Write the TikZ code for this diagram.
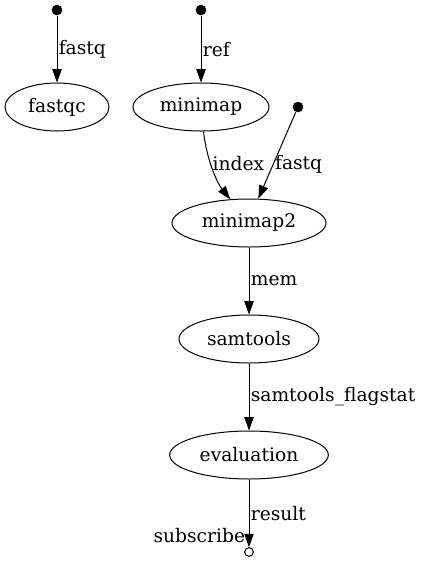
\documentclass[tikz,border=0pt]{standalone}
\usepackage{fontspec}
\setmainfont{DejaVu Serif}
\usetikzlibrary{arrows.meta,shapes.geometric}

\begin{document}
\begin{tikzpicture}[x=0.75pt,y=-0.75pt,>={Triangle[length=10pt,width=7pt]},line width=0.75pt,
  every node/.style={font=\fontsize{14pt}{17pt}\selectfont},
  proc/.style={draw,ellipse,inner sep=0pt,minimum height=36pt},
  src/.style={circle,fill,inner sep=0pt,minimum size=8pt},
  sink/.style={circle,draw,inner sep=0pt,minimum size=6.5pt},
  lbl/.style={right,inner sep=1pt}]
\useasboundingbox (0,0) rectangle (421,562);
\node[src] (in1) at (57,10) {};
\node[src] (in2) at (201,10) {};
\node[src] (in3) at (298,107) {};
\node[proc,minimum width=78pt] (fastqc) at (57,107) {fastqc};
\node[proc,minimum width=102pt] (minimap) at (201,107) {minimap};
\node[proc,minimum width=115.5pt] (minimap2) at (249,223) {minimap2};
\node[proc,minimum width=105pt] (samtools) at (249,339) {samtools};
\node[proc,minimum width=119pt] (evaluation) at (249,455) {evaluation};
\node[sink,label={[anchor=south east,inner sep=0pt,yshift=4pt]north west:subscribe}] (out) at (249,552) {};
\draw[->] (in1) -- (fastqc) node[lbl,midway]{fastq};
\draw[->] (in2) -- (minimap) node[lbl,midway]{ref};
\draw[->] (minimap) .. controls (206,155) and (215,180) .. (minimap2) node[lbl,pos=0.45]{index};
\draw[->] (in3) -- (minimap2.69) node[lbl,pos=0.6]{fastq};
\draw[->] (minimap2) -- (samtools) node[lbl,midway]{mem};
\draw[->] (samtools) -- (evaluation) node[lbl,midway]{samtools\_flagstat};
\draw[->] (evaluation) -- (out) node[lbl,midway]{result};
\end{tikzpicture}
\end{document}
